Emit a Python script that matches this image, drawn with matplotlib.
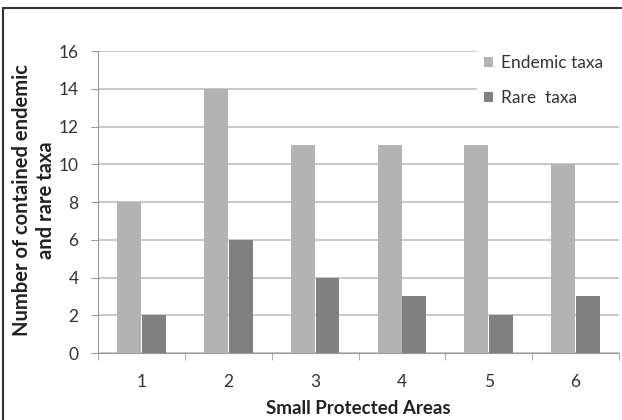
import numpy as np
import matplotlib.pyplot as plt
from matplotlib.patches import Rectangle

plt.rcParams['font.family'] = ['Lato', 'DejaVu Sans']

areas = ['1', '2', '3', '4', '5', '6']
endemic = [8, 14, 11, 11, 11, 10]
rare = [2, 6, 4, 3, 2, 3]

fig = plt.figure(figsize=(6.22, 4.2), dpi=100)
ax = fig.add_axes([0.1576, 0.1595, 0.8376, 0.7190])

x = np.arange(len(areas))
w = 0.275
ax.bar(x - w / 2 - 0.005, endemic, w, color='#b3b3b3', label='Endemic taxa', zorder=3)
ax.bar(x + w / 2 + 0.005, rare, w, color='#808080', label='Rare  taxa', zorder=3)

ax.set_xlim(-0.5, len(areas) - 0.5)
ax.set_ylim(0, 16)
ax.set_yticks(range(0, 17, 2))
ax.set_xticks(x)
ax.set_xticklabels(areas)
ax.set_xticks(np.arange(-0.5, len(areas), 1), minor=True)
ax.tick_params(axis='x', which='major', length=0, pad=15, labelsize=12.5, labelcolor='#333333')
ax.tick_params(axis='x', which='minor', length=5, color='#999999')
ax.tick_params(axis='y', length=5, color='#999999', labelsize=12.5, labelcolor='#333333', pad=9)

ax.grid(axis='y', color='#c4c4c4', linewidth=1.3, zorder=0)
for s in ['top', 'right']:
    ax.spines[s].set_visible(False)
ax.spines['left'].set_color('#999999')
ax.spines['bottom'].set_color('#999999')

ax.set_xlabel('Small Protected Areas', fontsize=13.5, fontweight='bold', color='#222222')
ax.xaxis.set_label_coords(0.5, (353 - 408) / 302)
ax.xaxis.label.set_va('center')
ax.set_ylabel('Number of contained endemic\nand rare taxa', fontsize=14.5,
              fontweight='bold', color='#222222', linespacing=1.3)
ax.yaxis.set_label_coords((34 - 98) / 521, 0.507)
ax.yaxis.label.set_va('center')

leg = ax.legend(loc='upper left', bbox_to_anchor=(477 / 622, 0.5, 145 / 622, 0.5 - 48 / 420),
                bbox_transform=fig.transFigure, mode='expand', borderaxespad=0,
                frameon=True, fontsize=12.5, handlelength=0.55, handleheight=0.55,
                handletextpad=0.45, labelspacing=1.12, borderpad=0.4, fancybox=False)
leg.get_frame().set_edgecolor('white')
leg.get_frame().set_facecolor('white')
leg.get_frame().set_alpha(1)
leg.get_frame().set_linewidth(0)
leg.set_zorder(5)
for t in leg.get_texts():
    t.set_color('#333333')

fig.patches.append(Rectangle((0.005, -0.02), 1.05, 1 - 8 / 420 + 0.02, transform=fig.transFigure,
                             fill=False, edgecolor='#333333', linewidth=1.5))

fig.savefig('out.png', dpi=100)
